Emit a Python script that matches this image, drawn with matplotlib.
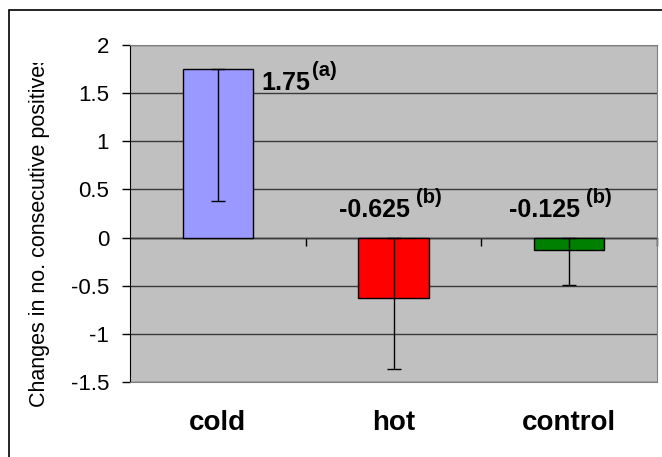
import numpy as np
import matplotlib.pyplot as plt
from matplotlib.patches import Rectangle
from matplotlib.transforms import Bbox, TransformedBbox

plt.rcParams['font.family'] = ['Liberation Sans', 'DejaVu Sans']

categories = ['cold', 'hot', 'control']
values = [1.75, -0.625, -0.125]
err_low = [1.375, 0.745, 0.365]
err_high = [0.0, 0.625, 0.125]
letters = ['(a)', '(b)', '(b)']
colors = ['#9999FF', '#FF0000', '#008000']

fig = plt.figure(figsize=(6.62, 4.57), dpi=100)
ax = fig.add_axes([130/662, 1-382/457, 527/662, 337/457])
ax.set_facecolor('#C0C0C0')

x = np.arange(len(categories))
ax.bar(x, values, width=0.4, color=colors, edgecolor='black', linewidth=1, zorder=3)
ax.errorbar(x, values, yerr=[err_low, err_high], fmt='none', ecolor='black',
            elinewidth=1, capsize=5, capthick=1, zorder=4)

ax.set_xlim(-0.5, 2.5)
ax.set_ylim(-1.5, 2)
ax.set_yticks(np.arange(-1.5, 2.01, 0.5))
ax.set_yticklabels(['-1.5', '-1', '-0.5', '0', '0.5', '1', '1.5', '2'])
ax.tick_params(axis='y', direction='out', length=6, width=1, labelsize=16, pad=9)
ax.yaxis.grid(True, color='#3a3a3a', linewidth=1, zorder=1)
ax.set_axisbelow(True)

ax.set_xticks(x)
ax.set_xticklabels(categories, fontsize=20, fontweight='bold')
ax.tick_params(axis='x', length=0, pad=20)

for side in ['top', 'right', 'bottom']:
    ax.spines[side].set_color('#808080')
ax.spines['left'].set_color('black')

# category axis crossing at zero
sec = ax.secondary_xaxis(0, transform=ax.transData)
sec.set_xticks([0.5, 1.5, 2.5])
sec.tick_params(direction='out', length=6, width=1, labelbottom=False, color='black')
sec.spines['bottom'].set_color('black')
sec.spines['bottom'].set_linewidth(1)

# value labels with superscript letters
label_pos = [(0.25, 1.533), (0.69, 0.214), (1.657, 0.214)]
for v, lt, (lx, ly) in zip(values, letters, label_pos):
    t = ax.text(lx, ly, '%g' % v, fontsize=18, fontweight='bold',
                ha='left', va='baseline', zorder=5)
    gap = 1 if v > 0 else 4.5
    ax.annotate(lt, xy=(1, 0), xycoords=t, xytext=(gap, 14), textcoords='offset points',
                fontsize=14.5, fontweight='bold', ha='left', va='baseline', zorder=5)

ylab = fig.text(40/662, 1-407/457, 'Changes in no. consecutive positives',
                rotation=90, ha='center', va='bottom', fontsize=15.5)
ylab.set_clip_on(True)
ylab.set_clip_box(TransformedBbox(Bbox([[0, 0], [1, 1-63/457]]), fig.transFigure))

fig.add_artist(Rectangle((9/662, -0.1), 1.2, 1.1-10/457, transform=fig.transFigure,
                         fill=False, edgecolor='black', linewidth=1.2))

fig.savefig('out.png', dpi=100)
